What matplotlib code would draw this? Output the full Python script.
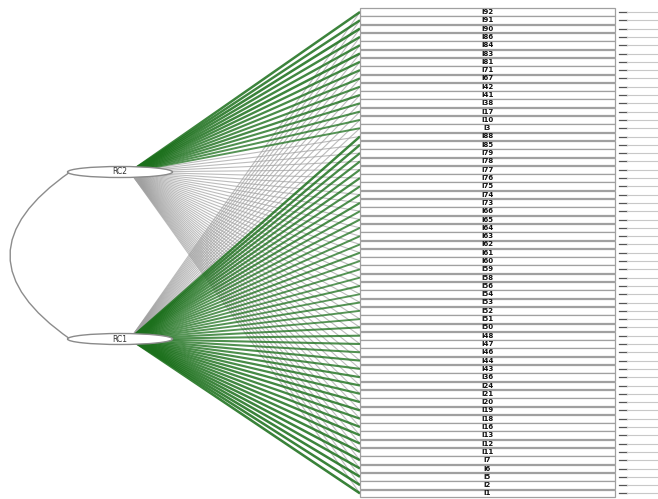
import numpy as np
import matplotlib.pyplot as plt
from matplotlib.patches import Ellipse, Rectangle, PathPatch
from matplotlib.path import Path

# items top to bottom
items = ["I92", "I91", "I90", "I86", "I84", "I83", "I81", "I71", "I67", "I42", "I41", "I38", "I17", "I10", "I3",
         "I88", "I85", "I79", "I78", "I77", "I76", "I75", "I74", "I73", "I66", "I65", "I64", "I63",
         "I62", "I61", "I60", "I59", "I58", "I56", "I54", "I53", "I52", "I51", "I50", "I48", "I47", "I46", "I44", "I43",
         "I36", "I24", "I21", "I20", "I19", "I18", "I16", "I13", "I12", "I11", "I7", "I6", "I5", "I2", "I1"]

rc1 = [0.25, 0.22, 0.18, 0.20, 0.24, 0.19, 0.21, 0.26, 0.23, 0.28, 0.20, 0.24, 0.27, 0.22, 0.25,
       0.70, 0.68, 0.62, 0.60, 0.58, 0.61, 0.57, 0.55, 0.59, 0.52, 0.54, 0.50, 0.51,
       0.49, 0.53, 0.48, 0.50, 0.47, 0.52, 0.46, 0.51, 0.49, 0.48, 0.53, 0.55, 0.56, 0.54, 0.58, 0.57,
       0.60, 0.62, 0.61, 0.64, 0.66, 0.63, 0.65, 0.68, 0.67, 0.70, 0.72, 0.71, 0.74, 0.73, 0.75]

rc2 = [0.72, 0.70, 0.74, 0.68, 0.66, 0.71, 0.65, 0.62, 0.60, 0.58, 0.63, 0.57, 0.55, 0.52, 0.50,
       0.22, 0.20, 0.18, 0.15, 0.17, 0.14, 0.16, 0.12, 0.13, 0.18, 0.15, 0.12, 0.10,
       0.14, 0.11, 0.13, 0.16, 0.12, 0.10, 0.15, 0.11, 0.09, 0.13, 0.12, 0.10, 0.14, 0.16, 0.12, 0.11,
       0.18, 0.15, 0.13, 0.12, 0.10, 0.14, 0.16, 0.12, 0.11, 0.13, 0.15, 0.12, 0.10, 0.14, 0.12]

latents = ["RC2", "RC1"]
loadings = {"RC1": rc1, "RC2": rc2}

# layout (pixel space)
W, H = 658, 499
row0, step = 12.0, 8.3
box_l, box_r = 360, 615
lat_pos = {"RC2": (120, 172), "RC1": (120, 339)}
anchor_dx = 10
cut = 0.3

fig = plt.figure(figsize=(W / 100, H / 100), dpi=100)
ax = fig.add_axes([0, 0, 1, 1])
ax.set_xlim(0, W)
ax.set_ylim(H, 0)
ax.axis('off')

rows = row0 + step * np.arange(len(items))

# weak edges first (gray), then strong (green)
for strong in (False, True):
    for lat in latents:
        lx, ly = lat_pos[lat]
        lx = lx + anchor_dx
        for y, l in zip(rows, loadings[lat]):
            if (abs(l) >= cut) != strong:
                continue
            if strong:
                ax.plot([lx, box_l], [ly, y], color='#1c701c', lw=0.5 + 1.8 * abs(l),
                        alpha=0.5 + 0.5 * abs(l), zorder=3, solid_capstyle='butt')
            else:
                ax.plot([lx, box_l], [ly, y], color='#a0a0a0', lw=0.8, alpha=0.7, zorder=2)

# covariance arc between latents
(x1, y1), (x2, y2) = lat_pos["RC2"], lat_pos["RC1"]
p0 = (x1 - 50, y1)
p2 = (x2 - 50, y2)
c = (-50, (y1 + y2) / 2)
arc = Path([p0, c, p2], [Path.MOVETO, Path.CURVE3, Path.CURVE3])
ax.add_patch(PathPatch(arc, fill=False, edgecolor='#8c8c8c', lw=1.0, zorder=2))

# latent nodes
for lat in latents:
    lx, ly = lat_pos[lat]
    ax.add_patch(Ellipse((lx, ly), 105, 11, facecolor='white', edgecolor='#8a8a8a', lw=1.0, zorder=5))
    ax.text(lx, ly, lat, ha='center', va='center', fontsize=5.5, color='#333333', zorder=6)

# manifest boxes + residual stubs
for y, name in zip(rows, items):
    ax.add_patch(Rectangle((box_l, y - step / 2 + 0.3), box_r - box_l, step - 0.6,
                           facecolor='white', edgecolor='#a0a0a0', lw=0.9, zorder=4))
    ax.text((box_l + box_r) / 2, y, name, ha='center', va='center', fontsize=5,
            fontweight='bold', color='#111111', zorder=6)
    ax.plot([619, 627], [y, y], color='#555555', lw=0.9, zorder=3)
    ax.plot([627, W], [y, y], color='#c8c8c8', lw=0.8, zorder=3)

fig.savefig('out.png', dpi=100, facecolor='white')
